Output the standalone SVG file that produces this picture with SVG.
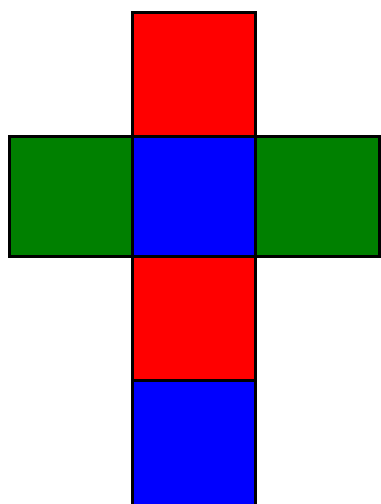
<svg xmlns="http://www.w3.org/2000/svg" width="381" height="504" viewBox="0 0 381 504">
<style>
.f{stroke:#000;stroke-width:3}
.r{fill:#f00}.g{fill:#008000}.b{fill:#00f}
</style>
<rect width="381" height="504" fill="#fff"/>
<g id="top"><rect class="f r" x="132.5" y="12.5" width="123" height="124"/></g>
<g id="left"><rect class="f g" x="9.5" y="136.5" width="123" height="120"/></g>
<g id="center"><rect class="f b" x="132.5" y="136.5" width="123" height="120"/></g>
<g id="right"><rect class="f g" x="255.5" y="136.5" width="124" height="120"/></g>
<g id="below"><rect class="f r" x="132.5" y="256.5" width="123" height="124"/></g>
<g id="bottom"><rect class="f b" x="132.5" y="380.5" width="123" height="126"/></g>
</svg>
